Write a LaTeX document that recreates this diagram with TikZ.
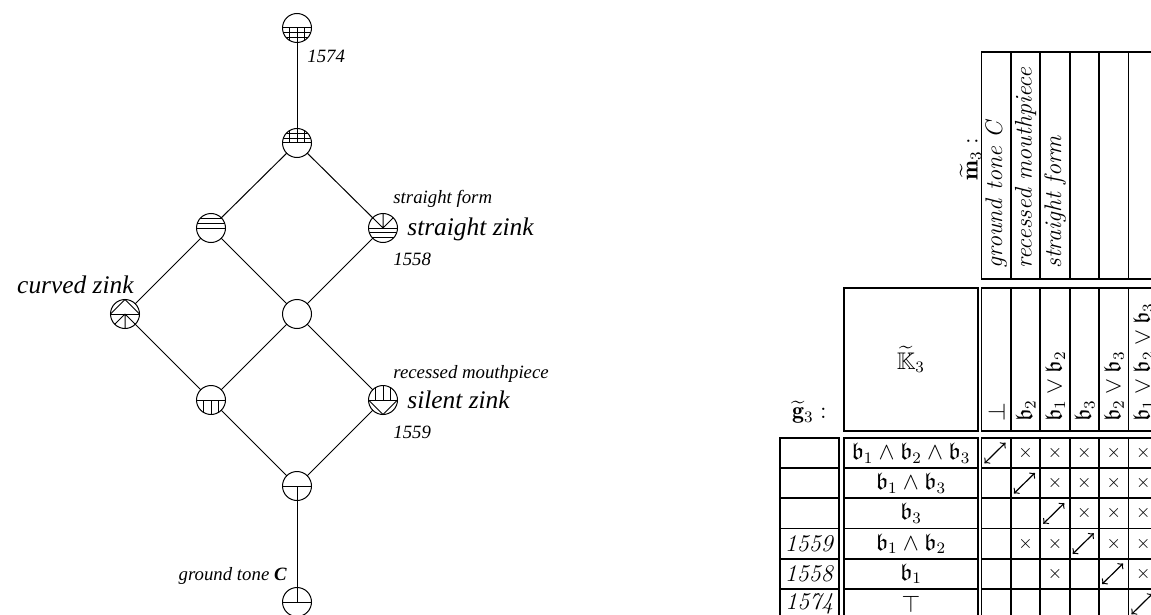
\documentclass[tikz,border=0pt]{standalone}
\usepackage{fontspec}
\usepackage{amssymb}
\newfontfamily\latticefont{Liberation Serif}
\usetikzlibrary{matrix,positioning}
\tikzset{
  latnode/.style={
      circle,
      draw,
      line width=0.5pt,
      minimum size=14.5pt,
      inner sep=0pt,
      outer sep=0pt,
  },
  halved/.style={
      path picture={\draw[line width=0.5pt] (path picture bounding box.west) -- (path picture bounding box.east);}
  },
  smalllabel/.style={
      font=\latticefont\itshape\fontsize{9.4}{11}\selectfont,
      inner sep=0pt,
  },
  biglabel/.style={
      font=\latticefont\itshape\fontsize{12.7}{15}\selectfont,
      inner sep=0pt,
  },
  cell/.style={
      draw,
      line width=0.9pt,
      minimum width=14.7pt,
      minimum height=15.1pt,
      inner sep=0pt,
      outer sep=0pt,
      anchor=center,
      font=\fontsize{12}{14}\selectfont,
  },
  blank/.style={
      draw=none
  },
  context/.style={
      matrix of nodes,
      nodes in empty cells,
      inner sep=0pt,
      outer sep=0pt,
      column sep=-0.9pt,
      row sep=-0.9pt,
      nodes={cell},
      column 1/.style={nodes={minimum width=29.5pt}},
      column 2/.style={nodes={minimum width=67pt}},
      row 1/.style={nodes={minimum height=113.5pt}},
      row 2/.style={nodes={minimum height=71.5pt}},
  },
  rothead/.style={
      rotate=90,
      anchor=west,
      inner sep=0pt,
      font=\fontsize{12}{14}\selectfont,
  },
  incid/.style={
      <->,
      line width=0.6pt,
  }
}
% patterns in one half of a concept circle: #1 node, #2 = 1 upper half, -1 lower half
\newcommand{\halfhoriz}[2]{
    \begin{scope}[shift={(#1.center)}, x=1pt, y=#2pt]
      \clip (0,0) circle[radius=7.25pt];
      \draw[line width=0.5pt] (-8,2.4) -- (8,2.4) (-8,4.8) -- (8,4.8);
    \end{scope}
}
\newcommand{\halfvert}[2]{
    \begin{scope}[shift={(#1.center)}, x=1pt, y=#2pt]
      \clip (0,0) circle[radius=7.25pt];
      \draw[line width=0.5pt] (-3.6,0) -- (-3.6,8) (0,0) -- (0,8) (3.6,0) -- (3.6,8);
    \end{scope}
}
\newcommand{\halfgrid}[2]{
    \halfhoriz{#1}{#2}
    \halfvert{#1}{#2}
}
\newcommand{\halffan}[2]{
    \begin{scope}[shift={(#1.center)}, x=1pt, y=#2pt]
      \draw[line width=0.5pt] (0,0) -- (-5.13,5.13) (0,0) -- (0,7.25) (0,0) -- (5.13,5.13);
    \end{scope}
}
\newcommand{\halfwedge}[2]{
    \begin{scope}[shift={(#1.center)}, x=1pt, y=#2pt]
      \draw[line width=0.5pt] (-7.25,0) -- (0,7.25) -- (7.25,0);
    \end{scope}
}
\newcommand{\halfspoke}[2]{
    \begin{scope}[shift={(#1.center)}, x=1pt, y=#2pt]
      \draw[line width=0.5pt] (0,0) -- (0,7.25);
    \end{scope}
}
\newcommand{\ctxcross}{
    {\fontsize{9}{10}\selectfont$\times$}
}

\begin{document}
\begin{tikzpicture}[x=0.5pt, y=-0.5pt]
  \useasboundingbox (0,0) rectangle (1151,615);

  % lattice
  \node (apex)     [latnode, halved] at (297,28)  {};
  \node (upper)    [latnode, halved] at (297,143) {};
  \node (lform)    [latnode, halved] at (211,228) {};
  \node (straight) [latnode, halved] at (383,228) {};
  \node (curved)   [latnode, halved] at (125,314) {};
  \node (mid)      [latnode]         at (297,314) {};
  \node (lvert)    [latnode, halved] at (211,400) {};
  \node (silent)   [latnode, halved] at (383,400) {};
  \node (foot)     [latnode, halved] at (297,486) {};
  \node (ground)   [latnode, halved] at (297,602) {};

  \halfgrid{apex}{-1}
  \halfgrid{upper}{1}
  \halfhoriz{lform}{1}
  \halffan{straight}{1}
  \halfhoriz{straight}{-1}
  \halfwedge{curved}{1}
  \halffan{curved}{-1}
  \halfvert{lvert}{-1}
  \halfvert{silent}{1}
  \halfwedge{silent}{-1}
  \halfspoke{foot}{-1}
  \halfspoke{ground}{1}

  \path[-, line width=0.5pt]
  (apex)     edge (upper)
  (upper)    edge (lform)
  (upper)    edge (straight)
  (lform)    edge (curved)
  (lform)    edge (mid)
  (straight) edge (mid)
  (curved)   edge (lvert)
  (mid)      edge (lvert)
  (mid)      edge (silent)
  (lvert)    edge (foot)
  (silent)   edge (foot)
  (foot)     edge (ground)
  ;

  \node (lab1574)     [smalllabel, anchor=base west] at (307,63)  {1574};
  \node (formlab)     [smalllabel, anchor=base west] at (393,203) {straight form};
  \node (straightlab) [biglabel, anchor=base west]   at (407,235) {straight zink};
  \node (lab1558)     [smalllabel, anchor=base west] at (393,265) {1558};
  \node (curvedlab)   [biglabel, anchor=base east]   at (134,293) {curved zink};
  \node (mouthlab)    [smalllabel, anchor=base west] at (393,378) {recessed mouthpiece};
  \node (silentlab)   [biglabel, anchor=base west]   at (407,408) {silent zink};
  \node (lab1559)     [smalllabel, anchor=base west] at (393,438) {1559};
  \node (groundlab)   [smalllabel, anchor=base east] at (287,580) {ground tone \textbf{C}};

  % context
  \matrix (ctx) [context, anchor=north west] at (779,51) {
    |[blank]| &[2.5pt] |[blank]| &[1.8pt] & & & & & \\[4.5pt]
    |[blank]| &[2.5pt] $\widetilde{\mathbb{K}}_3$ &[1.8pt] & & & & & \\[3.5pt]
    &[2.5pt] $\mathfrak{b}_1\wedge\mathfrak{b}_2\wedge\mathfrak{b}_3$ &[1.8pt] & \ctxcross & \ctxcross & \ctxcross & \ctxcross & \ctxcross \\
    &[2.5pt] $\mathfrak{b}_1\wedge\mathfrak{b}_3$ &[1.8pt] & & \ctxcross & \ctxcross & \ctxcross & \ctxcross \\
    &[2.5pt] $\mathfrak{b}_3$ &[1.8pt] & & & \ctxcross & \ctxcross & \ctxcross \\
    \textit{1559} &[2.5pt] $\mathfrak{b}_1\wedge\mathfrak{b}_2$ &[1.8pt] & \ctxcross & \ctxcross & & \ctxcross & \ctxcross \\
    \textit{1558} &[2.5pt] $\mathfrak{b}_1$ &[1.8pt] & & \ctxcross & & & \ctxcross \\
    \textit{1574} &[2.5pt] $\top$ &[1.8pt] & & & & & \\
  };

  \node (glabel) [anchor=base, inner sep=0pt, font=\fontsize{12}{14}\selectfont] at ([yshift=9.5pt]ctx-3-1.north) {$\widetilde{\mathbf{g}}_3:$};
  \node (mlabel) [rotate=90, anchor=base, inner sep=0pt, font=\fontsize{12}{14}\selectfont] at ([shift={(-2pt,3pt)}]ctx-1-3.west) {$\widetilde{\mathbf{m}}_3:$};

  \node (mh1) [rothead, font=\fontsize{12}{14}\selectfont\itshape] at ([yshift=5pt]ctx-1-3.south) {ground tone C};
  \node (mh2) [rothead, font=\fontsize{12}{14}\selectfont\itshape] at ([yshift=5pt]ctx-1-4.south) {recessed mouthpiece};
  \node (mh3) [rothead, font=\fontsize{12}{14}\selectfont\itshape] at ([yshift=5pt]ctx-1-5.south) {straight form};

  \node (bh1) [rothead] at ([yshift=4.5pt]ctx-2-3.south) {$\bot$};
  \node (bh2) [rothead] at ([yshift=4.5pt]ctx-2-4.south) {$\mathfrak{b}_2$};
  \node (bh3) [rothead] at ([yshift=4.5pt]ctx-2-5.south) {$\mathfrak{b}_1\vee\mathfrak{b}_2$};
  \node (bh4) [rothead] at ([yshift=4.5pt]ctx-2-6.south) {$\mathfrak{b}_3$};
  \node (bh5) [rothead] at ([yshift=4.5pt]ctx-2-7.south) {$\mathfrak{b}_2\vee\mathfrak{b}_3$};
  \node (bh6) [rothead] at ([yshift=4.5pt]ctx-2-8.south) {$\mathfrak{b}_1\vee\mathfrak{b}_2\vee\mathfrak{b}_3$};

  \draw[incid] ([shift={(1.5pt,2.4pt)}]ctx-3-3.south west) -- ([shift={(-2.7pt,-2.4pt)}]ctx-3-3.north east);
  \draw[incid] ([shift={(1.5pt,2.4pt)}]ctx-4-4.south west) -- ([shift={(-2.7pt,-2.4pt)}]ctx-4-4.north east);
  \draw[incid] ([shift={(1.5pt,2.4pt)}]ctx-5-5.south west) -- ([shift={(-2.7pt,-2.4pt)}]ctx-5-5.north east);
  \draw[incid] ([shift={(1.5pt,2.4pt)}]ctx-6-6.south west) -- ([shift={(-2.7pt,-2.4pt)}]ctx-6-6.north east);
  \draw[incid] ([shift={(1.5pt,2.4pt)}]ctx-7-7.south west) -- ([shift={(-2.7pt,-2.4pt)}]ctx-7-7.north east);
  \draw[incid] ([shift={(1.5pt,2.4pt)}]ctx-8-8.south west) -- ([shift={(-2.7pt,-2.4pt)}]ctx-8-8.north east);
\end{tikzpicture}
\end{document}
